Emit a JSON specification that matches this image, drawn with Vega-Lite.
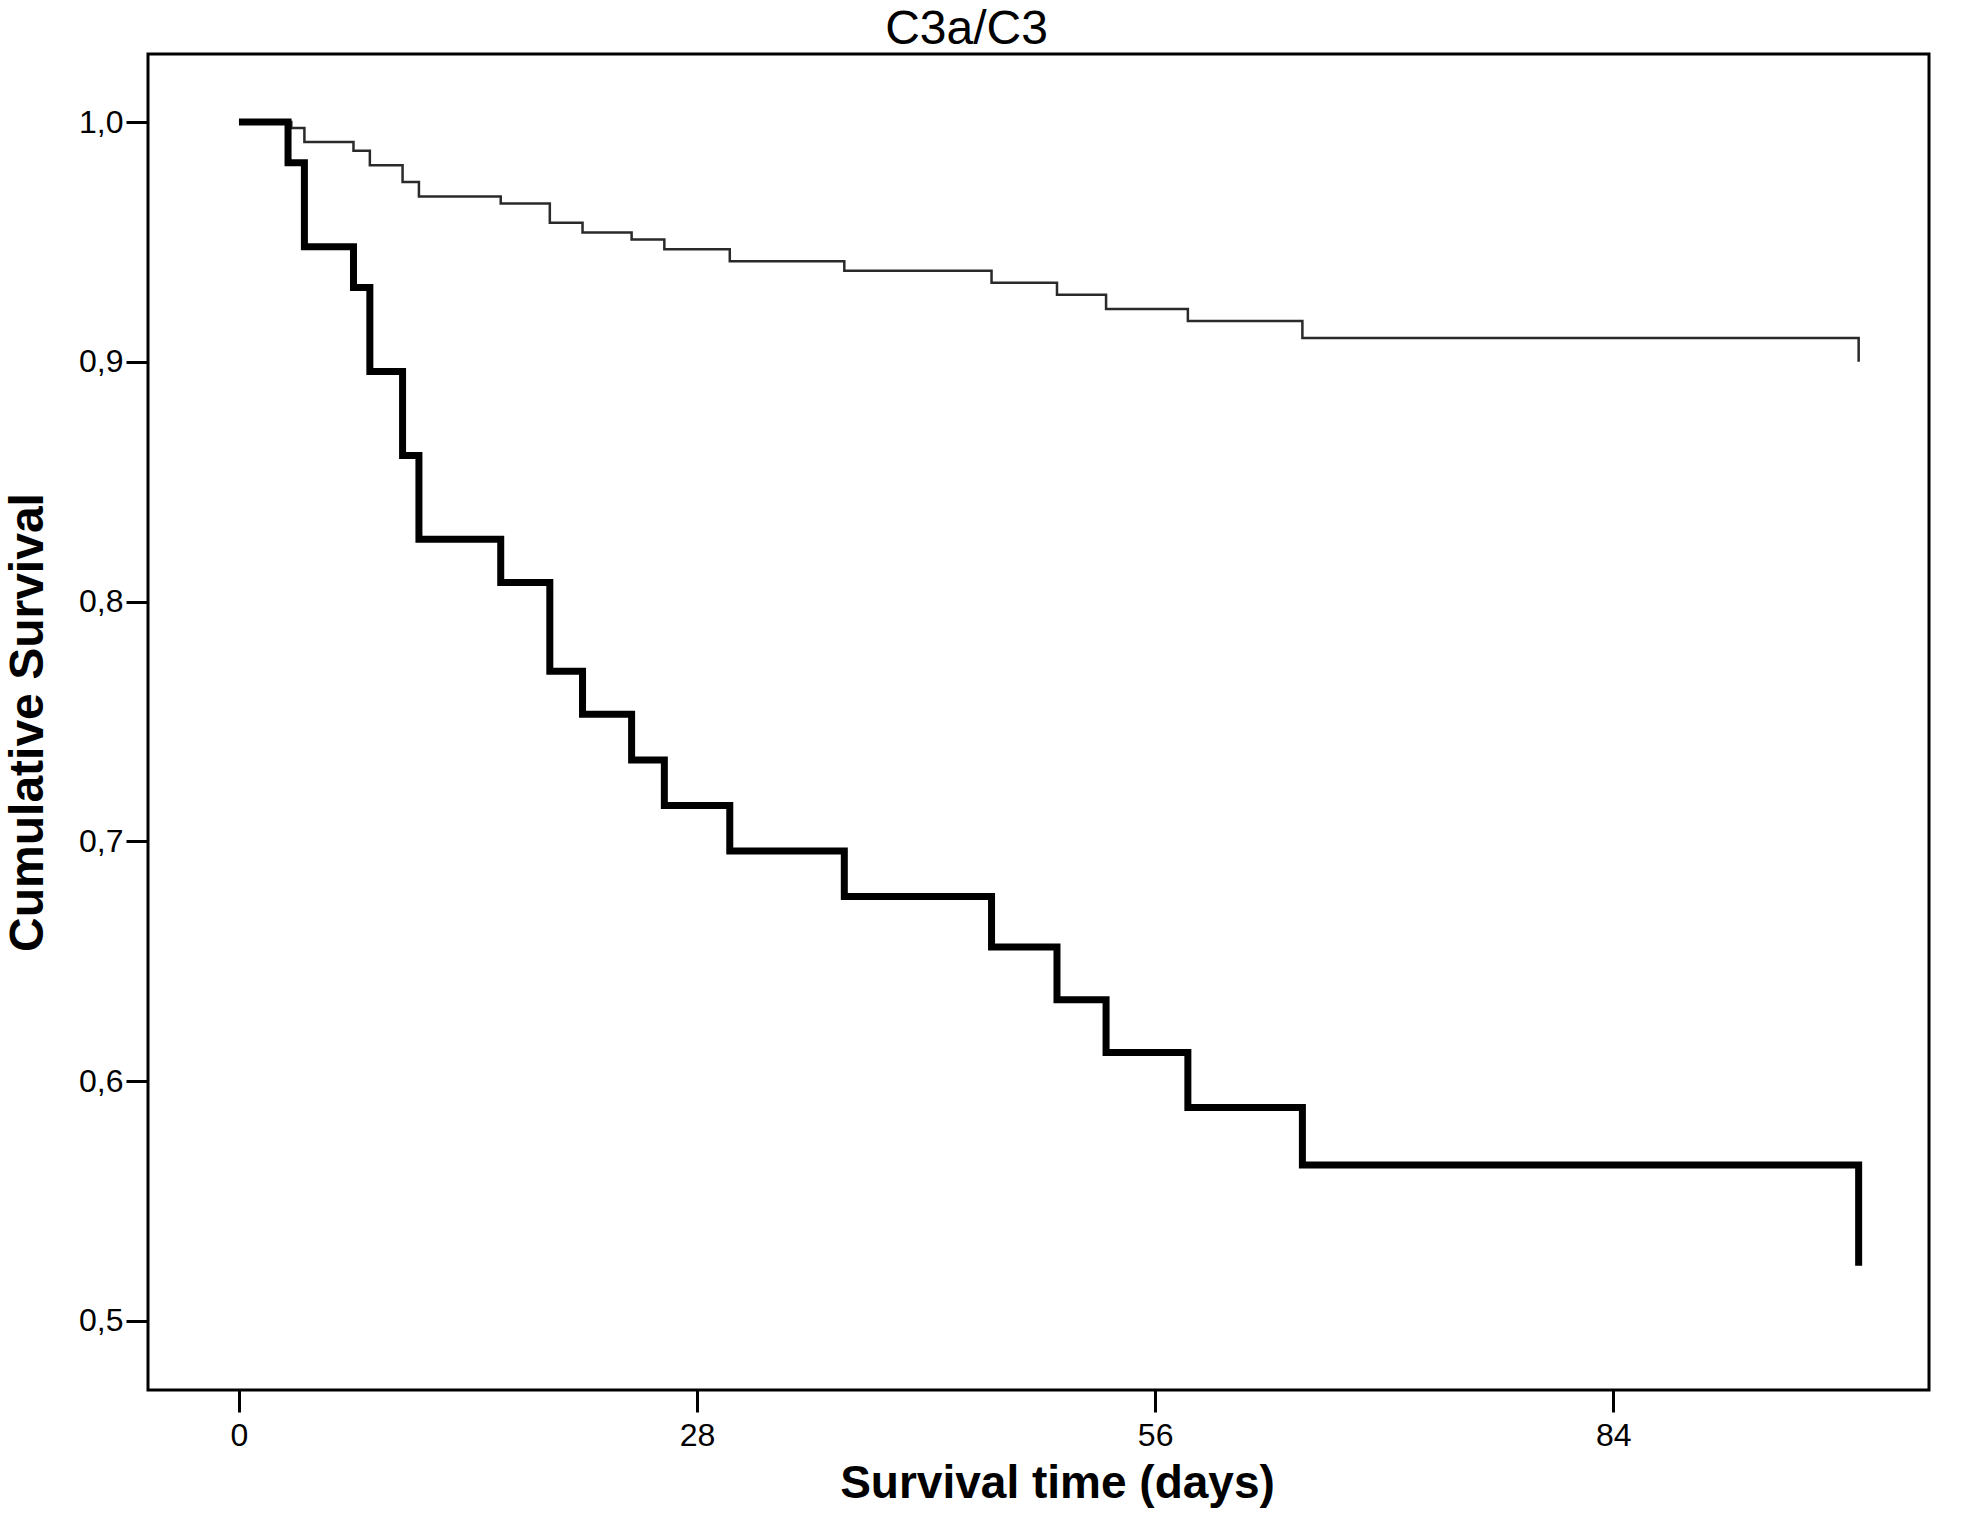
{
  "$schema": "https://vega.github.io/schema/vega-lite/v6.json",
  "description": "Kaplan-Meier survival curves by C3a/C3 group.",
  "width": 1781,
  "height": 1336,
  "autosize": {"type": "none"},
  "padding": {"left": 148, "top": 54, "right": 40, "bottom": 148},
  "background": "white",
  "title": {
    "text": "C3a/C3",
    "font": "Liberation Sans",
    "fontSize": 48,
    "fontWeight": "normal",
    "color": "black",
    "anchor": "middle",
    "frame": "group",
    "dx": -72,
    "dy": 54,
    "offset": 6,
    "baseline": "bottom"
  },
  "datasets": {
    "high": [
      {"day": 0, "surv": 1.0},
      {"day": 3, "surv": 0.983},
      {"day": 4, "surv": 0.948},
      {"day": 7, "surv": 0.931},
      {"day": 8, "surv": 0.896},
      {"day": 10, "surv": 0.861},
      {"day": 11, "surv": 0.826},
      {"day": 16, "surv": 0.808},
      {"day": 19, "surv": 0.771},
      {"day": 21, "surv": 0.753},
      {"day": 24, "surv": 0.734},
      {"day": 26, "surv": 0.715},
      {"day": 30, "surv": 0.696},
      {"day": 37, "surv": 0.677},
      {"day": 46, "surv": 0.656},
      {"day": 50, "surv": 0.634},
      {"day": 53, "surv": 0.612},
      {"day": 58, "surv": 0.589},
      {"day": 65, "surv": 0.565},
      {"day": 99, "surv": 0.565},
      {"day": 99, "surv": 0.523}
    ],
    "low": [
      {"day": 0, "surv": 1.0},
      {"day": 3.2, "surv": 0.9975},
      {"day": 4, "surv": 0.9917},
      {"day": 7, "surv": 0.988},
      {"day": 8, "surv": 0.982},
      {"day": 10, "surv": 0.975},
      {"day": 11, "surv": 0.969},
      {"day": 16, "surv": 0.966},
      {"day": 19, "surv": 0.958},
      {"day": 21, "surv": 0.954},
      {"day": 24, "surv": 0.951},
      {"day": 26, "surv": 0.947},
      {"day": 30, "surv": 0.942},
      {"day": 37, "surv": 0.938},
      {"day": 46, "surv": 0.933},
      {"day": 50, "surv": 0.928},
      {"day": 53, "surv": 0.922},
      {"day": 58, "surv": 0.917},
      {"day": 65, "surv": 0.910},
      {"day": 99, "surv": 0.910},
      {"day": 99, "surv": 0.900}
    ]
  },
  "encoding": {
    "x": {
      "field": "day",
      "type": "quantitative",
      "scale": {"domain": [-5.56, 103.3], "nice": false, "zero": false},
      "axis": {
        "values": [0, 28, 56, 84],
        "title": "Survival time (days)",
        "titleFont": "Liberation Sans",
        "titleFontSize": 46,
        "titleFontWeight": "bold",
        "titleColor": "black",
        "titleX": 909,
        "titleY": 107,
        "titleAlign": "center",
        "titleBaseline": "alphabetic",
        "labelFont": "Liberation Sans",
        "labelFontSize": 32,
        "labelColor": "black",
        "labelPadding": 8,
        "tickSize": 22,
        "tickWidth": 3,
        "tickColor": "black",
        "domain": false,
        "grid": false
      }
    },
    "y": {
      "field": "surv",
      "type": "quantitative",
      "scale": {"domain": [0.4712, 1.0284], "nice": false, "zero": false},
      "axis": {
        "values": [0.5, 0.6, 0.7, 0.8, 0.9, 1.0],
        "labelExpr": "replace(format(datum.value, '.1f'), '.', ',')",
        "title": "Cumulative Survival",
        "titleFont": "Liberation Sans",
        "titleFontSize": 48,
        "titleFontWeight": "bold",
        "titleColor": "black",
        "titleAngle": 270,
        "titleX": -106,
        "titleY": 668,
        "titleAlign": "center",
        "titleBaseline": "alphabetic",
        "labelFont": "Liberation Sans",
        "labelFontSize": 32,
        "labelColor": "black",
        "labelPadding": 3,
        "tickSize": 22,
        "tickWidth": 3,
        "tickColor": "black",
        "domain": false,
        "grid": false
      }
    }
  },
  "layer": [
    {
      "data": {"name": "low"},
      "mark": {
        "type": "line",
        "interpolate": "step-after",
        "color": "#2a2a2a",
        "strokeWidth": 2.5,
        "strokeJoin": "miter",
        "strokeCap": "butt"
      }
    },
    {
      "data": {"name": "high"},
      "mark": {
        "type": "line",
        "interpolate": "step-after",
        "color": "black",
        "strokeWidth": 7,
        "strokeJoin": "miter",
        "strokeCap": "butt"
      }
    }
  ],
  "config": {
    "view": {"stroke": "black", "strokeWidth": 3}
  }
}
